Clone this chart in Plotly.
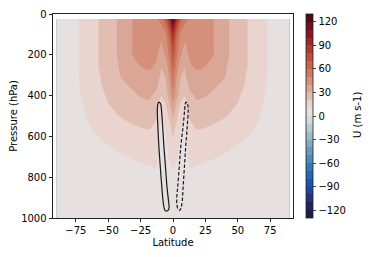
import plotly.graph_objects as go

# Latitude grid (deg) and pressure levels (hPa)
lat = [-90, -80, -70, -60, -50, -40, -32, -25, -18, -13, -9, -6, -3, 0,
       3, 6, 9, 13, 18, 25, 32, 40, 50, 60, 70, 80, 90]
pressure = [25, 50, 100, 150, 200, 250, 300, 350, 400, 450, 500, 550, 600,
            650, 700, 750, 800, 900, 1000]

# Zonal wind U (m s-1), one row per pressure level
u_wind = [
    [3, 6, 11.5, 18, 26, 32, 39.5, 45, 47, 48, 55, 65, 90, 130, 90, 65, 55, 48, 47, 45, 39.5, 32, 26, 18, 11.5, 6, 3],
    [3, 6, 11.5, 18, 26, 32, 39.5, 45, 47, 47, 50, 58, 78, 112, 78, 58, 50, 47, 47, 45, 39.5, 32, 26, 18, 11.5, 6, 3],
    [3, 6, 11.5, 18, 26, 32, 39.5, 45, 47, 46, 44, 48, 62, 92, 62, 48, 44, 46, 47, 45, 39.5, 32, 26, 18, 11.5, 6, 3],
    [3, 6, 11.5, 18, 26, 32, 39.5, 45, 46, 44, 39, 44, 56, 80, 56, 44, 39, 44, 46, 45, 39.5, 32, 26, 18, 11.5, 6, 3],
    [3, 6, 11.5, 18, 26, 32, 39.5, 44, 44, 42, 35, 41, 52, 72, 52, 41, 35, 42, 44, 44, 39.5, 32, 26, 18, 11.5, 6, 3],
    [3, 6, 11.5, 18, 26, 31, 37, 40.5, 42, 39, 31, 34, 46, 64, 46, 34, 31, 39, 42, 40.5, 37, 31, 26, 18, 11.5, 6, 3],
    [3, 6, 11.5, 17.5, 24, 30.5, 35, 37, 38, 36, 28, 30.5, 41, 58, 41, 30.5, 28, 36, 38, 37, 35, 30.5, 24, 17.5, 11.5, 6, 3],
    [3, 6, 11, 17, 23, 28, 31, 34, 35, 32, 24, 27, 36, 53, 36, 27, 24, 32, 35, 34, 31, 28, 23, 17, 11, 6, 3],
    [3, 6, 10.5, 16, 21, 25, 28, 30.5, 31, 28, 20.5, 24, 33, 46, 33, 24, 20.5, 28, 31, 30.5, 28, 25, 21, 16, 10.5, 6, 3],
    [3, 6, 9.5, 14, 19.5, 22.5, 25, 27, 28.5, 24, 14, 18, 27, 38, 27, 18, 14, 24, 28.5, 27, 25, 22.5, 19.5, 14, 9.5, 6, 3],
    [3, 5.5, 9, 12.5, 17, 20.5, 23, 24.5, 25, 21, 11, 14, 22, 31, 22, 14, 11, 21, 25, 24.5, 23, 20.5, 17, 12.5, 9, 5.5, 3],
    [3, 5, 8.5, 11, 14.5, 17.5, 19, 20.5, 21, 18, 8, 11, 17, 25, 17, 11, 8, 18, 21, 20.5, 19, 17.5, 14.5, 11, 8.5, 5, 3],
    [3, 5, 8, 9.5, 12, 14.5, 16, 17, 17.5, 15, 7, 9, 14, 20, 14, 9, 7, 15, 17.5, 17, 16, 14.5, 12, 9.5, 8, 5, 3],
    [3, 4.5, 7, 8.5, 9.5, 12, 13.5, 14.5, 15, 13, 6, 8, 12, 16, 12, 8, 6, 13, 15, 14.5, 13.5, 12, 9.5, 8.5, 7, 4.5, 3],
    [3, 4, 6, 7, 8, 9, 10.5, 12, 13, 12, 5.5, 7, 10.5, 13, 10.5, 7, 5.5, 12, 13, 12, 10.5, 9, 8, 7, 6, 4, 3],
    [3, 4, 5, 6, 7, 7.5, 8, 8.5, 9.5, 10.5, 5, 6, 9, 10.5, 9, 6, 5, 10.5, 9.5, 8.5, 8, 7.5, 7, 6, 5, 4, 3],
    [3, 3.5, 4.5, 5, 6, 6.5, 7, 7.5, 8, 8.5, 5, 5, 7, 8, 7, 5, 5, 8.5, 8, 7.5, 7, 6.5, 6, 5, 4.5, 3.5, 3],
    [2.5, 3, 3.5, 4, 4.5, 5, 5.5, 5.5, 6, 6, 4.5, 4.5, 5, 6, 5, 4.5, 4.5, 6, 6, 5.5, 5.5, 5, 4.5, 4, 3.5, 3, 2.5],
    [2, 2.5, 3, 3, 3.5, 4, 4, 4, 4.5, 4.5, 4, 3.5, 4, 4.5, 4, 3.5, 4, 4.5, 4.5, 4, 4, 4, 3.5, 3, 3, 2.5, 2],
]

# Overturning-cell contour outlines (solid = positive, dashed = negative)
pos_cell_lat = [-10.8, -9.6, -8.9, -8.0, -7.0, -5.8, -4.6, -3.4, -3.0, -3.5, -5.0, -6.4,
                -7.4, -8.6, -9.8, -10.9, -11.7, -12.1, -11.9, -11.4, -10.8]
pos_cell_p = [432, 440, 470, 550, 650, 750, 850, 920, 945, 960, 966, 960,
              930, 850, 750, 650, 550, 480, 450, 436, 432]
neg_cell_lat = [10.0, 11.2, 11.7, 11.0, 9.8, 8.8, 7.8, 7.1, 6.3, 5.2, 4.0, 3.0,
                2.9, 3.6, 4.8, 6.0, 7.8, 9.0, 9.4, 10.0]
neg_cell_p = [432, 442, 470, 550, 650, 750, 850, 920, 948, 963, 958, 935,
              900, 850, 750, 650, 550, 470, 442, 432]

# Discrete diverging palette, one colour per 10 m s-1 band from -130 to 130
band_colors = [
    '#1b1f45', '#222b6b', '#233a8f', '#1c4ca8', '#165eb8', '#2a71b7', '#4181b8',
    '#5a92bb', '#74a2bf', '#8fb2c4', '#a9c3cd', '#c5d3d8', '#e0e2e3', '#ecdfdd',
    '#e5c9c1', '#ddb2a4', '#d69b88', '#d1856e', '#cb6f55', '#c35a3f', '#b8432f',
    '#a8302b', '#961d2c', '#7d1227', '#600e1f', '#420a14',
]
cbar_ticks = [-120, -90, -60, -30, 0, 30, 60, 90, 120]

n = len(band_colors)
colorscale = [[0.0, band_colors[0]]] + [[(k + 1) / n, c] for k, c in enumerate(band_colors)]

fig = go.Figure()
fig.add_trace(go.Contour(
    x=lat, y=pressure, z=u_wind,
    autocontour=False,
    contours=dict(start=-130, end=130, size=10, coloring='fill', showlines=False),
    zmin=-130, zmax=130,
    colorscale=colorscale,
    line=dict(width=0, smoothing=1),
    colorbar=dict(
        x=1.054, xanchor='left', xpad=0, y=0.5, yanchor='middle', ypad=0,
        len=1, lenmode='fraction', thickness=7,
        outlinewidth=0.8, outlinecolor='#222',
        tickvals=cbar_ticks, ticks='outside', ticklen=3.5, tickwidth=0.8,
        tickfont=dict(family='DejaVu Sans', size=10, color='black'),
    ),
    hoverinfo='skip',
))
fig.add_trace(go.Scatter(
    x=pos_cell_lat, y=pos_cell_p, mode='lines',
    line=dict(color='#1a1a1a', width=1.2, shape='spline'), hoverinfo='skip'))
fig.add_trace(go.Scatter(
    x=neg_cell_lat, y=neg_cell_p, mode='lines',
    line=dict(color='#1a1a1a', width=1.2, shape='spline', dash='3.5px,2px'), hoverinfo='skip'))

axis_common = dict(showline=True, linecolor='#222', linewidth=0.8, mirror=True,
                   showgrid=False, zeroline=False, ticks='outside', ticklen=3.5,
                   tickwidth=0.8, tickcolor='#222', automargin=False,
                   tickfont=dict(family='DejaVu Sans', size=10, color='black'))
fig.update_xaxes(range=[-92.6, 92.6], tickvals=[-75, -50, -25, 0, 25, 50, 75],
                 title=dict(text='Latitude', standoff=3,
                            font=dict(family='DejaVu Sans', size=10, color='black')),
                 **axis_common)
fig.update_yaxes(range=[1000, 0], tickvals=[0, 200, 400, 600, 800, 1000],
                 title=dict(text='Pressure (hPa)', standoff=5,
                            font=dict(family='DejaVu Sans', size=10, color='black')),
                 **axis_common)
# Colour-bar label
fig.add_annotation(text='U (m s-1)', xref='paper', yref='paper', x=1.271, y=0.505,
                   xanchor='center', yanchor='middle', textangle=-90, showarrow=False,
                   font=dict(family='DejaVu Sans', size=10, color='black'))
# The page body adds an 8 px offset, so the figure is sized and placed to compensate
fig.update_layout(width=366, height=249,
                  margin=dict(l=45, r=81, t=6, b=39, autoexpand=False),
                  plot_bgcolor='white', paper_bgcolor='white', showlegend=False,
                  font=dict(family='DejaVu Sans', size=10, color='black'))
fig.write_html('out.html')
